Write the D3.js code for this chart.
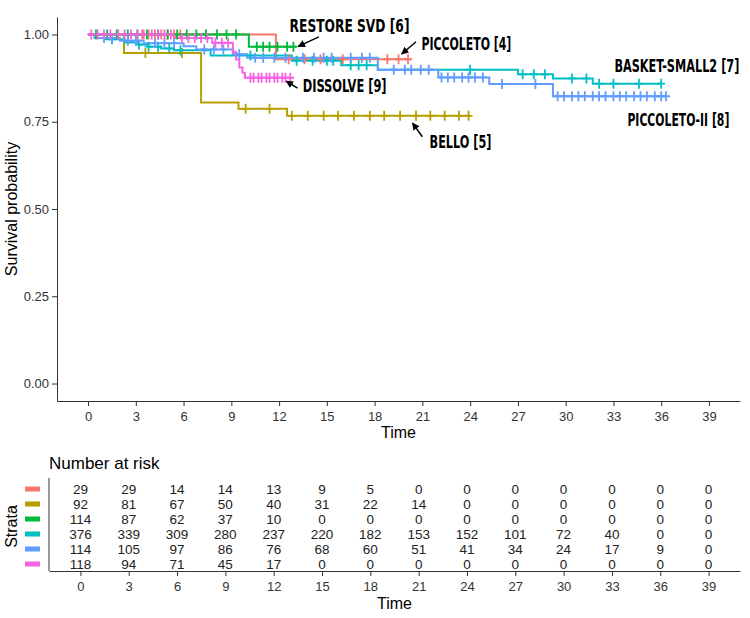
<!DOCTYPE html>
<html>
<head>
<meta charset="utf-8">
<script src="https://cdn.jsdelivr.net/npm/d3@7"></script>
<style>
  body { margin: 0; background: #fff; }
  svg { display: block; font-family: "Liberation Sans", Arial, sans-serif; }
</style>
</head>
<body>
<svg id="chart" width="750" height="618"></svg>
<script>
// strata in risk-table order
const strata = ["PICCOLETO [4]", "BELLO [5]", "RESTORE SVD [6]", "BASKET-SMALL2 [7]", "PICCOLETO-II [8]", "DISSOLVE [9]"];

// KM steps: time of each drop, survival after it, censor times, last follow-up
const piccoletoTimes = [0, 11.8];
const piccoletoSurv = [1, 0.929];
const piccoletoCensor = [3.4, 3.8, 4.2, 4.6, 5.0, 5.4, 5.8, 12.6, 13.6, 14.6, 16.0, 18.8, 19.5, 20.1];
const piccoletoEnd = 20.3;

const belloTimes = [0, 2.26, 7.1, 9.45, 12.5];
const belloSurv = [1, 0.947, 0.805, 0.787, 0.767];
const belloCensor = [3.6, 5.9, 9.9, 11.4, 12.8, 13.8, 14.8, 15.7, 16.7, 17.7, 18.6, 19.6, 20.6, 21.5, 22.4, 23.3, 23.9];
const belloEnd = 24.0;

const restoreTimes = [0, 10.1];
const restoreSurv = [1, 0.965];
const restoreCensor = [0.5, 1.2, 1.8, 2.5, 3.1, 3.7, 4.4, 5.0, 5.6, 6.2, 6.8, 7.4, 8.1, 8.7, 9.3, 10.6, 11.0, 11.4, 11.9, 12.5, 12.9];
const restoreEnd = 13.1;

const basketTimes = [0, 1.0, 2.3, 3.2, 3.8, 4.6, 5.4, 7.7, 12.8, 15.9, 18.2, 27.0, 29.2, 31.7];
const basketSurv = [1, 0.986, 0.977, 0.971, 0.965, 0.960, 0.955, 0.940, 0.925, 0.912, 0.899, 0.886, 0.874, 0.859];
const basketCensor = [1.5, 3.2, 3.8, 4.4, 5.1, 5.8, 10.2, 13.1, 14.1, 15.0, 15.4, 16.5, 17.0, 17.5, 24.0, 27.3, 28.0, 28.7, 30.4, 31.3, 32.1, 33.0, 34.6, 36.0];
const basketEnd = 36.0;

const piccoletoIITimes = [0, 0.4, 2.0, 3.5, 6.0, 6.8, 9.1, 10.0, 18.2, 22.0, 25.2, 29.2];
const piccoletoIISurv = [1, 0.99, 0.982, 0.975, 0.966, 0.957, 0.943, 0.933, 0.899, 0.877, 0.858, 0.823];
const piccoletoIICensor = [1.0, 1.5, 2.5, 3.0, 4.2, 4.8, 5.4, 7.3, 7.9, 8.5, 9.5, 10.5, 11.0, 11.7, 12.4, 13.5, 14.2, 14.8, 15.3, 16.5, 17.2, 17.7,
  19.2, 19.9, 20.3, 20.9, 21.4, 22.2, 22.6, 23.0, 23.5, 23.9, 24.3, 24.8, 26.0, 28.1,
  29.5, 29.9, 30.4, 30.8, 31.2, 31.7, 32.1, 32.5, 33.0, 33.4, 33.8, 34.3, 34.7, 35.1, 35.6, 36.0, 36.3];
const piccoletoIIEnd = 36.3;

const dissolveTimes = [0, 5.5, 7.8, 9.1, 9.3, 9.5, 9.7, 9.85];
const dissolveSurv = [1, 0.99, 0.976, 0.95, 0.928, 0.905, 0.89, 0.876];
const dissolveCensor = [0.2, 0.6, 1.0, 1.4, 1.9, 2.3, 2.7, 3.1, 3.5, 4.0, 4.4, 4.8, 5.2, 5.9, 6.3, 6.7, 7.1, 7.5, 8.0, 8.4, 8.8,
  10.2, 10.4, 10.7, 10.9, 11.2, 11.4, 11.7, 11.9, 12.2, 12.4, 12.7];
const dissolveEnd = 12.8;

// number at risk
const riskTimes = [0, 3, 6, 9, 12, 15, 18, 21, 24, 27, 30, 33, 36, 39];
const riskPiccoleto = [29, 29, 14, 14, 13, 9, 5, 0, 0, 0, 0, 0, 0, 0];
const riskBello = [92, 81, 67, 50, 40, 31, 22, 14, 0, 0, 0, 0, 0, 0];
const riskRestore = [114, 87, 62, 37, 10, 0, 0, 0, 0, 0, 0, 0, 0, 0];
const riskBasket = [376, 339, 309, 280, 237, 220, 182, 153, 152, 101, 72, 40, 0, 0];
const riskPiccoletoII = [114, 105, 97, 86, 76, 68, 60, 51, 41, 34, 24, 17, 9, 0];
const riskDissolve = [118, 94, 71, 45, 17, 0, 0, 0, 0, 0, 0, 0, 0, 0];

const yTicks = [0, 0.25, 0.5, 0.75, 1];

const colors = ["#F8766D", "#B79F00", "#00BA38", "#00BFC4", "#619CFF", "#F564E3"];

const series = [
  { times: piccoletoTimes, surv: piccoletoSurv, censor: piccoletoCensor, end: piccoletoEnd, risk: riskPiccoleto },
  { times: belloTimes, surv: belloSurv, censor: belloCensor, end: belloEnd, risk: riskBello },
  { times: restoreTimes, surv: restoreSurv, censor: restoreCensor, end: restoreEnd, risk: riskRestore },
  { times: basketTimes, surv: basketSurv, censor: basketCensor, end: basketEnd, risk: riskBasket },
  { times: piccoletoIITimes, surv: piccoletoIISurv, censor: piccoletoIICensor, end: piccoletoIIEnd, risk: riskPiccoletoII },
  { times: dissolveTimes, surv: dissolveSurv, censor: dissolveCensor, end: dissolveEnd, risk: riskDissolve }
].map((s, i) => ({ ...s, name: strata[i], color: colors[i] }));

// survival value at time t
const survAt = (s, t) => {
  let v = s.surv[0];
  s.times.forEach((tt, i) => { if (tt <= t) v = s.surv[i]; });
  return v;
};

const svg = d3.select("#chart");
const axisColor = "#333";
const labelFont = '"Liberation Sans Narrow", "Arial Narrow", "DejaVu Sans Condensed", sans-serif';

// ---- main plot ----
const x = d3.scaleLinear().domain([-1.95, 40.95]).range([57, 740]);
const y = d3.scaleLinear().domain([-0.05, 1.05]).range([401, 17]);

svg.append("defs").append("marker")
  .attr("id", "arrow")
  .attr("viewBox", "0 0 10 10")
  .attr("refX", 9).attr("refY", 5)
  .attr("markerWidth", 5).attr("markerHeight", 5)
  .attr("orient", "auto")
  .append("path")
  .attr("d", "M0,0 L10,5 L0,10 z")
  .attr("fill", "#000");

const xAxis = svg.append("g")
  .attr("transform", "translate(0,401)")
  .call(d3.axisBottom(x).tickValues(riskTimes).tickSize(5).tickSizeOuter(0));
const yAxis = svg.append("g")
  .attr("transform", "translate(57,0)")
  .call(d3.axisLeft(y).tickValues(yTicks).tickFormat(d3.format(".2f")).tickSize(5).tickSizeOuter(0));
[xAxis, yAxis].forEach(a => {
  a.selectAll("path, line").attr("stroke", axisColor);
  a.selectAll("text").attr("fill", axisColor).style("font-size", "13px");
});
xAxis.selectAll("text").attr("dy", "0.9em");

svg.append("text")
  .attr("x", x(19.5)).attr("y", 438)
  .attr("text-anchor", "middle")
  .style("font-size", "16px")
  .text("Time");
svg.append("text")
  .attr("transform", "translate(17," + y(0.5) + ") rotate(-90)")
  .attr("text-anchor", "middle")
  .style("font-size", "16px")
  .text("Survival probability");

const line = d3.line()
  .x(d => x(d[0]))
  .y(d => y(d[1]))
  .curve(d3.curveStepAfter);

svg.append("g").selectAll("path")
  .data(series)
  .enter()
  .append("path")
  .attr("d", s => line(s.times.map((t, i) => [t, s.surv[i]]).concat([[s.end, s.surv[s.surv.length - 1]]])))
  .attr("fill", "none")
  .attr("stroke", s => s.color)
  .attr("stroke-width", 2);

// censor marks
const cross = "M-4,0H4M0,-5V5";
series.forEach(s => {
  svg.append("g").selectAll("path")
    .data(s.censor)
    .enter()
    .append("path")
    .attr("transform", t => "translate(" + x(t) + "," + y(survAt(s, t)) + ")")
    .attr("d", cross)
    .attr("stroke", s.color)
    .attr("stroke-width", 1.8);
});

// curve labels (narrow bold, squeezed to the width seen in the picture)
const labels = [
  { text: "RESTORE SVD [6]", t: 12.66, s: 1.022, w: 120, from: [14.5, 0.993], to: [13.2, 0.966] },
  { text: "PICCOLETO [4]", t: 20.94, s: 0.973, w: 90, from: [20.6, 0.979], to: [19.7, 0.944] },
  { text: "DISSOLVE [9]", t: 13.48, s: 0.85, w: 84, from: [13.16, 0.846], to: [12.45, 0.866] },
  { text: "BELLO [5]", t: 21.45, s: 0.692, w: 62, from: [21.0, 0.707], to: [20.38, 0.746] },
  { text: "BASKET-SMALL2 [7]", t: 33.06, s: 0.91, w: 125 },
  { text: "PICCOLETO-II [8]", t: 33.88, s: 0.755, w: 102 }
];
svg.append("g").selectAll("text")
  .data(labels)
  .enter()
  .append("text")
  .attr("dominant-baseline", "central")
  .style("font-family", labelFont)
  .style("font-weight", "bold")
  .style("font-size", "17px")
  .text(d => d.text)
  .each(function (d) {
    const k = d.w / this.getComputedTextLength();
    d3.select(this).attr("transform", "translate(" + x(d.t) + "," + y(d.s) + ") scale(" + k + ",1)");
  });
svg.append("g").selectAll("line")
  .data(labels.filter(d => d.from))
  .enter()
  .append("line")
  .attr("x1", d => x(d.from[0])).attr("y1", d => y(d.from[1]))
  .attr("x2", d => x(d.to[0])).attr("y2", d => y(d.to[1]))
  .attr("stroke", "#000")
  .attr("stroke-width", 1.5)
  .attr("marker-end", "url(#arrow)");

// ---- risk table ----
const xr = d3.scaleLinear().domain([-1.95, 40.95]).range([49, 740]);
const yr = d3.scalePoint().domain(strata).range([489, 564]);

const xrAxis = svg.append("g")
  .attr("transform", "translate(0,571)")
  .call(d3.axisBottom(xr).tickValues(riskTimes).tickSize(5).tickSizeOuter(0));
xrAxis.selectAll("path, line").attr("stroke", axisColor);
xrAxis.selectAll("text").attr("fill", axisColor).attr("dy", "0.9em").style("font-size", "13px");

svg.append("line")
  .attr("x1", 49).attr("x2", 49)
  .attr("y1", 478).attr("y2", 571)
  .attr("stroke", axisColor);

svg.append("text")
  .attr("x", 49).attr("y", 469)
  .style("font-size", "17px")
  .text("Number at risk");
svg.append("text")
  .attr("x", xr(19.5)).attr("y", 609)
  .attr("text-anchor", "middle")
  .style("font-size", "16px")
  .text("Time");
svg.append("text")
  .attr("transform", "translate(17," + ((489 + 564) / 2) + ") rotate(-90)")
  .attr("text-anchor", "middle")
  .style("font-size", "16px")
  .text("Strata");

series.forEach(s => {
  svg.append("rect")
    .attr("x", 25).attr("y", yr(s.name) - 2.5)
    .attr("width", 15).attr("height", 5)
    .attr("fill", s.color);
  svg.append("g").selectAll("text")
    .data(s.risk)
    .enter()
    .append("text")
    .attr("x", (d, i) => xr(riskTimes[i]))
    .attr("y", yr(s.name))
    .attr("text-anchor", "middle")
    .attr("dominant-baseline", "central")
    .attr("fill", "#222")
    .style("font-size", "13.5px")
    .text(d => d);
});
</script>
</body>
</html>
